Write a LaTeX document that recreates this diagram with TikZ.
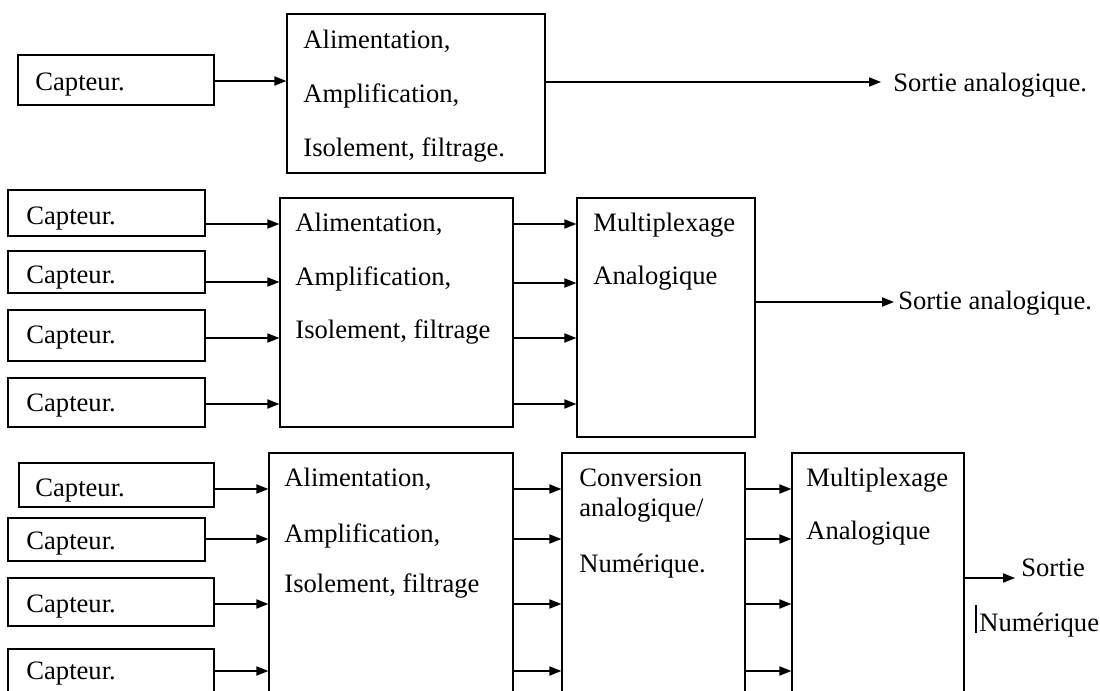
\documentclass[tikz,border=0pt]{standalone}
\usepackage{fontspec}
\setmainfont{Liberation Serif}
\usetikzlibrary{arrows.meta,fit}
\tikzset{
  box/.style={draw, line width=0.65pt, inner sep=0pt, rectangle},
  lbl/.style={anchor=base west, inner sep=0pt, font=\fontsize{13.3}{16}\selectfont},
  arr/.style={line width=0.65pt, -{Triangle[length=6pt,width=4.6pt]}},
}
\begin{document}
\begin{tikzpicture}[x=0.5pt,y=-0.5pt]
\path[use as bounding box, clip] (0,0) rectangle (1100,691);
\fill[white] (0,0) rectangle (1100,691);

% ---------- Row 1 ----------
\node[box, fit={(18,55) (214,105)}] (c1) {};
\node[box, fit={(287,14) (545,173)}] (a1) {};
\node[lbl] (c1t) at (35,90) {Capteur.};
\node[lbl] (a1t1) at (303,48) {Alimentation,};
\node[lbl] (a1t2) at (303,102) {Amplification,};
\node[lbl] (a1t3) at (303,156) {Isolement, filtrage.};
\coordinate (o1) at (881,82);
\node[lbl] (s1) at (893,91) {Sortie analogique.};
\draw[arr] (c1.east |- 0,81) -- (a1.west |- 0,81);
\draw[arr] (a1.east |- o1) -- (o1);

% ---------- Row 2 ----------
\node[box, fit={(8,190) (205,236)}] (c21) {};
\node[box, fit={(8,251) (205,293)}] (c22) {};
\node[box, fit={(8,310) (205,361)}] (c23) {};
\node[box, fit={(8,378) (205,427)}] (c24) {};
\node[lbl] (c21t) at (26,224) {Capteur.};
\node[lbl] (c22t) at (26,283) {Capteur.};
\node[lbl] (c23t) at (26,343) {Capteur.};
\node[lbl] (c24t) at (26,411) {Capteur.};
\node[box, fit={(280,198) (513,427)}] (a2) {};
\node[lbl] (a2t1) at (295,231) {Alimentation,};
\node[lbl] (a2t2) at (295,285) {Amplification,};
\node[lbl] (a2t3) at (295,338) {Isolement, filtrage};
\node[box, fit={(577,198) (755,437)}] (m2) {};
\node[lbl] (m2t1) at (593,231) {Multiplexage};
\node[lbl] (m2t2) at (593,284) {Analogique};
\coordinate (o2) at (894,302);
\node[lbl] (s2) at (898,309) {Sortie analogique.};
\draw[arr] (c21.east |- 0,224) -- (a2.west |- 0,224);
\draw[arr] (c22.east |- 0,282) -- (a2.west |- 0,282);
\draw[arr] (c23.east |- 0,338) -- (a2.west |- 0,338);
\draw[arr] (c24.east |- 0,404) -- (a2.west |- 0,404);
\draw[arr] (a2.east |- 0,224) -- (m2.west |- 0,224);
\draw[arr] (a2.east |- 0,283) -- (m2.west |- 0,283);
\draw[arr] (a2.east |- 0,338) -- (m2.west |- 0,338);
\draw[arr] (a2.east |- 0,404) -- (m2.west |- 0,404);
\draw[arr] (m2.east |- o2) -- (o2);

% ---------- Row 3 ----------
\node[box, fit={(19,463) (214,507)}] (c31) {};
\node[box, fit={(8,518) (205,561)}] (c32) {};
\node[box, fit={(8,578) (214,626)}] (c33) {};
\node[box, fit={(8,649) (214,720)}] (c34) {};
\node[lbl] (c31t) at (35,496) {Capteur.};
\node[lbl] (c32t) at (26,549) {Capteur.};
\node[lbl] (c33t) at (26,612) {Capteur.};
\node[lbl] (c34t) at (26,679) {Capteur.};
\node[box, fit={(269,453) (513,720)}] (a3) {};
\node[lbl] (a3t1) at (284,486) {Alimentation,};
\node[lbl] (a3t2) at (284,542) {Amplification,};
\node[lbl] (a3t3) at (284,592) {Isolement, filtrage};
\node[box, fit={(562,453) (745,720)}] (cv3) {};
\node[lbl] (cv3t1) at (579,486) {Conversion};
\node[lbl] (cv3t2) at (579,516) {analogique/};
\node[lbl] (cv3t3) at (579,572) {Numérique.};
\node[box, fit={(792,453) (964,720)}] (m3) {};
\node[lbl] (m3t1) at (806,486) {Multiplexage};
\node[lbl] (m3t2) at (806,539) {Analogique};
\coordinate (o3) at (1015,578);
\node[lbl] (s3a) at (1021,576) {Sortie};
\node[lbl] (s3b) at (979,631) {Numérique};
\draw[line width=0.9pt, black!85!blue] (976,605) -- (976,633);
\draw[arr] (c31.east |- 0,489) -- (a3.west |- 0,489);
\draw[arr] (c32.east |- 0,539) -- (a3.west |- 0,539);
\draw[arr] (c33.east |- 0,604) -- (a3.west |- 0,604);
\draw[arr] (c34.east |- 0,671) -- (a3.west |- 0,671);
\draw[arr] (a3.east |- 0,489) -- (cv3.west |- 0,489);
\draw[arr] (a3.east |- 0,539) -- (cv3.west |- 0,539);
\draw[arr] (a3.east |- 0,604) -- (cv3.west |- 0,604);
\draw[arr] (a3.east |- 0,671) -- (cv3.west |- 0,671);
\draw[arr] (cv3.east |- 0,489) -- (m3.west |- 0,489);
\draw[arr] (cv3.east |- 0,539) -- (m3.west |- 0,539);
\draw[arr] (cv3.east |- 0,604) -- (m3.west |- 0,604);
\draw[arr] (cv3.east |- 0,671) -- (m3.west |- 0,671);
\draw[arr] (m3.east |- o3) -- (o3);
\end{tikzpicture}
\end{document}
